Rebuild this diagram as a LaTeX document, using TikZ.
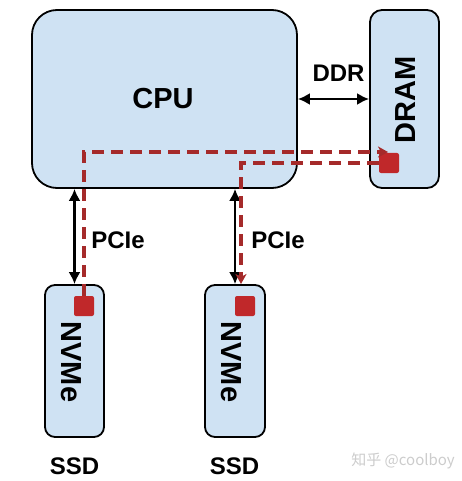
\documentclass[tikz,border=0pt]{standalone}
\usepackage{fontspec}
\setmainfont{Liberation Sans}
\newfontfamily\cjkfont{Noto Sans CJK SC}
\usetikzlibrary{arrows.meta}

\definecolor{boxblue}{HTML}{CFE2F3}
\definecolor{flowred}{HTML}{A52A2A}
\definecolor{chipred}{HTML}{C0282A}

\begin{document}
\begin{tikzpicture}[x=1pt, y=-1pt,  % one unit is one pixel, y grows downwards
    unit/.style={draw=black, line width=1.8pt, fill=boxblue, inner sep=0pt},
    chip/.style={fill=chipred, rounded corners=2pt, minimum width=20, minimum height=20, inner sep=0pt},
    bus/.style={line width=2.2pt, {Latex[length=12pt,width=12pt]}-{Latex[length=12pt,width=12pt]}},
    flow/.style={draw=flowred, line width=3.2pt, dash pattern=on 12pt off 7pt, -{Stealth[length=10pt,width=11pt,inset=3pt]}},
    lbl/.style={font=\bfseries\fontsize{24}{24}\selectfont, inner sep=0pt}]
    \useasboundingbox (0,0) rectangle (462,481);

    % Draw the boxes
    \node[unit, rounded corners=25pt, minimum width=265, minimum height=178] (cpu) at (164.5,99) {};
    \node[unit, rounded corners=12pt, minimum width=69, minimum height=178] (dram) at (404.5,99) {};
    \node[unit, rounded corners=10pt, minimum width=59, minimum height=152] (nvmeA) at (74.5,361) {};
    \node[unit, rounded corners=10pt, minimum width=60, minimum height=152] (nvmeB) at (235,361) {};

    % Box names, some of them turned on their side
    \node[lbl, font=\bfseries\fontsize{29}{29}\selectfont] (cputxt) at (163,99) {CPU};
    \node[lbl, font=\bfseries\fontsize{29}{29}\selectfont, rotate=90] (dramtxt) at (406,100) {DRAM};
    \node[lbl, font=\bfseries\fontsize{29}{29}\selectfont, rotate=-90] (nvmeAtxt) at (71,362) {NVMe};
    \node[lbl, font=\bfseries\fontsize{29}{29}\selectfont, rotate=-90] (nvmeBtxt) at (231,362) {NVMe};

    % Red chips inside DRAM and the two SSDs
    \node[chip] (chipD) at (389,163) {};
    \node[chip] (chipA) at (84,306) {};
    \node[chip] (chipB) at (245,306) {};

    % Buses
    \draw[bus] (cpu.east) -- (dram.west);
    \draw[bus] (nvmeA.north |- cpu.south) -- (nvmeA.north);
    \draw[bus] (nvmeB.north |- cpu.south) -- (nvmeB.north);
    \node[lbl] (ddr) at (338.5,73.5) {DDR};
    \node[lbl] (pcieA) at (118,240) {PCIe};
    \node[lbl] (pcieB) at (278,240) {PCIe};

    % Data path: SSD -> DRAM -> SSD
    \coordinate (tipD) at (388,152);
    \coordinate (tipB) at (241,284);
    \draw[flow] (chipA.north) |- (tipD);
    \draw[flow] (chipD.west) -| (tipB);

    % Bottom labels
    \node[lbl] (ssdA) at (74.5,466.5) {SSD};
    \node[lbl] (ssdB) at (234.5,466.5) {SSD};
    \node[font=\cjkfont\fontsize{15}{15}\selectfont, text=black!20, inner sep=0pt] (mark) at (403,461) {知乎 @coolboy};
\end{tikzpicture}
\end{document}
